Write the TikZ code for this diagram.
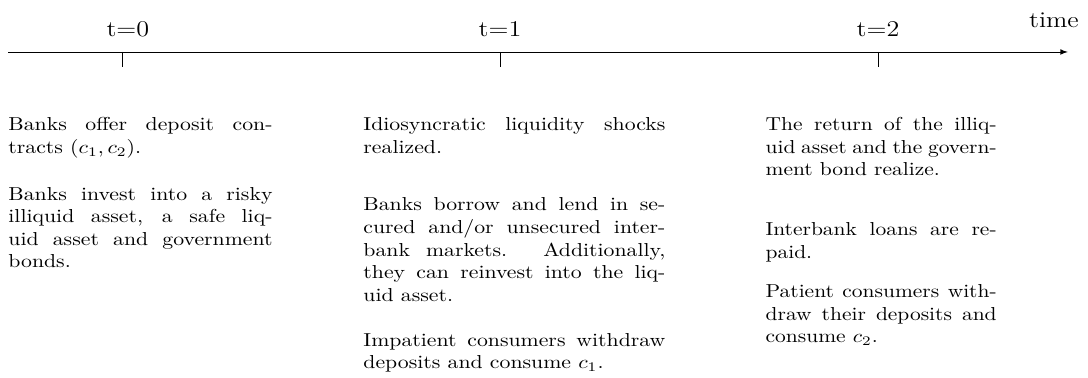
\documentclass[tikz,border=0pt]{standalone}
\usepackage{amsmath}
\usepackage{tikz}
\usetikzlibrary{arrows,positioning,calc}

\begin{document}
\begin{tikzpicture}[
    event/.style={anchor=base west, inner sep=0pt, align=justify, xscale=#1},
    event/.default=1.16,
    date/.style={anchor=base, inner sep=0pt, font=\large, xscale=1.16}
]
    % Bounding box
    \useasboundingbox (-0.15,0.974) rectangle (20.239,-6.091);

    % Time axis
    \coordinate (start) at (0,0);
    \coordinate (end) at (19.86,0);
    \draw[-latex] (start) -- (end);
    \node[date] (time) at (19.60,0.45) {time};

    % Ticks and dates
    \def\gap{7.084}
    \foreach \i/\dx in {0/0.11,1/0,2/0} {
        \coordinate (tick\i) at ({2.136+\i*\gap},0);
        \draw (tick\i) -- ++(0,-0.28);
        \node[date] (t\i) at ($(tick\i)+(\dx,0.281)$) {t=\i};
    }

    % Events at t=0
    \node[event, text width=121.4pt] (offer) at (0,-1.480)
        {Banks offer deposit contracts $(c_1,c_2)$.};
    \node[event, text width=121.4pt] (invest) at (0,-2.774)
        {Banks invest into a risky illiquid asset, a safe liquid asset and government bonds.};

    % Events at t=1
    \node[event, text width=138.8pt] (shocks) at (6.653,-1.480)
        {Idiosyncratic liquidity shocks realized.};
    \node[event, text width=138.8pt] (borrow) at (6.653,-2.980)
        {Banks borrow and lend in secured and/or unsecured interbank markets.  Additionally, they can reinvest into the liq-\linebreak uid asset.};
    \node[event, text width=138.8pt] (impatient) at (6.653,-5.510)
        {Impatient consumers withdraw deposits and consume $c_1$.};

    % Events at t=2
    \node[event=1.145, text width=107.6pt] (return) at (14.19,-1.480)
        {The return of the illiquid asset and the govern-\linebreak ment bond realize.};
    \node[event=1.145, text width=107.6pt] (repaid) at (14.19,-3.448)
        {Interbank loans are repaid.};
    \node[event=1.145, text width=107.6pt] (patient) at (14.19,-4.610)
        {Patient consumers withdraw their deposits and consume $c_2$.};
\end{tikzpicture}
\end{document}
